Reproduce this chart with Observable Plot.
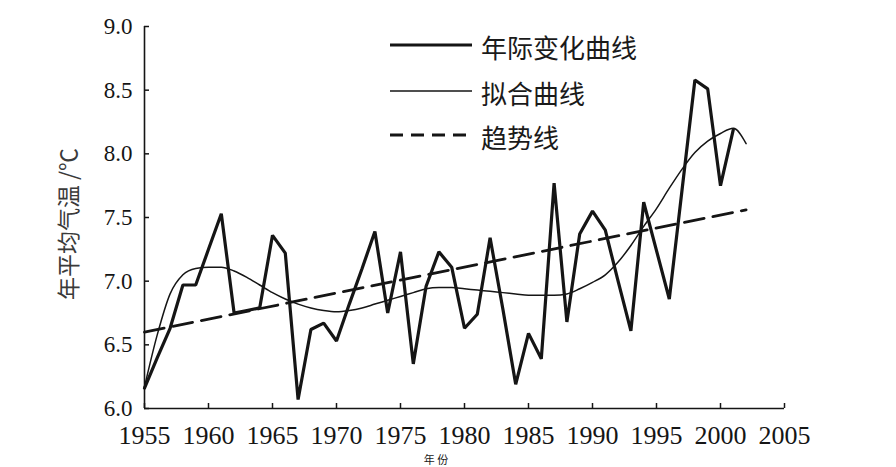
<!DOCTYPE html>
<html>
<head>
<meta charset="utf-8">
<script src="https://cdn.jsdelivr.net/npm/d3@7"></script>
<script src="https://cdn.jsdelivr.net/npm/@observablehq/plot@0.6"></script>
<style>
  html, body { margin: 0; padding: 0; background: #fff; overflow: hidden; }
  #wrap { position: relative; width: 896px; height: 467px; background: #fff; }
  #legend { position: absolute; left: 0; top: 0; width: 896px; height: 467px; pointer-events: none; }
  .cjk { font-family: "Noto Sans CJK SC", sans-serif; fill: #1a1a1a; }
</style>
</head>
<body>
<div id="wrap"></div>
<script>
// ---- data ----
const years = [1955,1956,1957,1958,1959,1960,1961,1962,1963,1964,1965,1966,1967,1968,1969,1970,
  1971,1972,1973,1974,1975,1976,1977,1978,1979,1980,1981,1982,1983,1984,1985,1986,1987,1988,
  1989,1990,1991,1992,1993,1994,1995,1996,1997,1998,1999,2000,2001];
const annualValues = [6.16,6.40,6.63,6.97,6.97,7.25,7.53,6.75,6.77,6.79,7.36,7.22,6.07,6.62,6.67,6.53,
  6.82,7.10,7.39,6.75,7.23,6.35,6.96,7.23,7.11,6.63,6.74,7.34,6.78,6.19,6.59,6.39,7.77,6.68,
  7.37,7.55,7.40,7.00,6.61,7.62,7.24,6.86,7.72,8.58,8.51,7.75,8.19];
const fitYears = [1955,1956,1957,1958,1959,1960,1961,1962,1963,1964,1965,1966,1967,1968,1969,1970,
  1971,1972,1973,1974,1975,1976,1977,1978,1979,1980,1981,1982,1983,1984,1985,1986,1987,1988,
  1989,1990,1991,1992,1993,1994,1995,1996,1997,1998,1999,2000,2001,2002];
const fitValues = [6.17,6.58,6.90,7.05,7.10,7.11,7.11,7.08,7.03,6.97,6.91,6.86,6.82,6.79,6.77,6.76,
  6.77,6.79,6.82,6.85,6.88,6.91,6.94,6.95,6.95,6.94,6.93,6.92,6.91,6.90,6.89,6.89,6.89,6.90,
  6.94,6.99,7.05,7.15,7.28,7.43,7.57,7.73,7.88,8.01,8.10,8.16,8.20,8.08];
const trendYears = [1955, 2002];
const trendValues = [6.60, 7.56];
const xTicks = [1955,1960,1965,1970,1975,1980,1985,1990,1995,2000,2005];
const yTicks = [6.0,6.5,7.0,7.5,8.0,8.5,9.0];
const xDomain = [1955, 2005];
const yDomain = [6, 9];
const yLabel = "年平均气温 /℃";
const xLabel = "年  份";
const legendLabels = ["年际变化曲线", "拟合曲线", "趋势线"];

const annual = years.map((y, i) => ({year: y, value: annualValues[i]}));
const fit = fitYears.map((y, i) => ({year: y, value: fitValues[i]}));
const trend = trendYears.map((y, i) => ({year: y, value: trendValues[i]}));

const ink = "#151515";
const serif = "'Liberation Serif', 'Times New Roman', 'DejaVu Serif', serif";
const chart = Plot.plot({
  width: 896, height: 467,
  marginLeft: 144, marginRight: 112, marginTop: 26, marginBottom: 59,
  style: {fontFamily: serif, color: ink, background: "#fff", overflow: "visible"},
  x: {domain: xDomain},
  y: {domain: yDomain},
  marks: [
    Plot.ruleX([xDomain[0]], {y1: yDomain[0], y2: yDomain[1], stroke: ink, strokeWidth: 1.6}),
    Plot.ruleY([yDomain[0]], {x1: xDomain[0], x2: xDomain[1], stroke: ink, strokeWidth: 1.6}),
    Plot.axisY({ticks: yTicks, tickSize: -5, tickPadding: 17, tickFormat: d3.format(".1f"), fontSize: 23, label: null, stroke: ink, strokeWidth: 1.5}),
    Plot.axisX({ticks: xTicks, tickSize: -5, tickPadding: 22, tickFormat: d => String(d), fontSize: 26, label: null, stroke: ink, strokeWidth: 1.5}),
    Plot.line(trend, {x: "year", y: "value", stroke: ink, strokeWidth: 2.8, strokeDasharray: "20,9"}),
    Plot.line(fit, {x: "year", y: "value", stroke: ink, strokeWidth: 1.5, curve: "monotone-x"}),
    Plot.line(annual, {x: "year", y: "value", stroke: ink, strokeWidth: 3.2, strokeLinejoin: "miter"})
  ]
});
// force serif face on every tick label
chart.querySelectorAll("g, text").forEach(el => {
  el.removeAttribute("font-family");
  el.style.setProperty("font-family", serif, "important");
});
const wrap = document.getElementById("wrap");
wrap.appendChild(chart);

// ---- legend and axis titles (overlay) ----
const ns = "http://www.w3.org/2000/svg";
const ov = document.createElementNS(ns, "svg");
ov.setAttribute("id", "legend");
ov.setAttribute("width", 896);
ov.setAttribute("height", 467);
const styles = [
  {w: 3.2, dash: null},
  {w: 1.5, dash: null},
  {w: 2.8, dash: "13,8"}
];
const rowY = [45, 91, 135];
legendLabels.forEach((lab, i) => {
  const ln = document.createElementNS(ns, "line");
  ln.setAttribute("x1", 390); ln.setAttribute("x2", 472);
  ln.setAttribute("y1", rowY[i]); ln.setAttribute("y2", rowY[i]);
  ln.setAttribute("stroke", ink);
  ln.setAttribute("stroke-width", styles[i].w);
  if (styles[i].dash) ln.setAttribute("stroke-dasharray", styles[i].dash);
  ov.appendChild(ln);
  const t = document.createElementNS(ns, "text");
  t.setAttribute("x", 481); t.setAttribute("y", rowY[i] + 1);
  t.setAttribute("dominant-baseline", "central");
  t.setAttribute("font-size", 26);
  t.setAttribute("class", "cjk");
  t.textContent = lab;
  ov.appendChild(t);
});
const yl = document.createElementNS(ns, "text");
yl.setAttribute("transform", "translate(67,224) rotate(-90)");
yl.setAttribute("text-anchor", "middle");
yl.setAttribute("dominant-baseline", "central");
yl.setAttribute("font-size", 23);
yl.setAttribute("class", "cjk");
yl.setAttribute("style", "fill:#3a3a3a");
yl.textContent = yLabel;
ov.appendChild(yl);
const xl = document.createElementNS(ns, "text");
xl.setAttribute("x", 436); xl.setAttribute("y", 463.5);
xl.setAttribute("text-anchor", "middle");
xl.setAttribute("font-size", 11);
xl.setAttribute("class", "cjk");
xl.textContent = xLabel;
ov.appendChild(xl);
wrap.appendChild(ov);
</script>
</body>
</html>
